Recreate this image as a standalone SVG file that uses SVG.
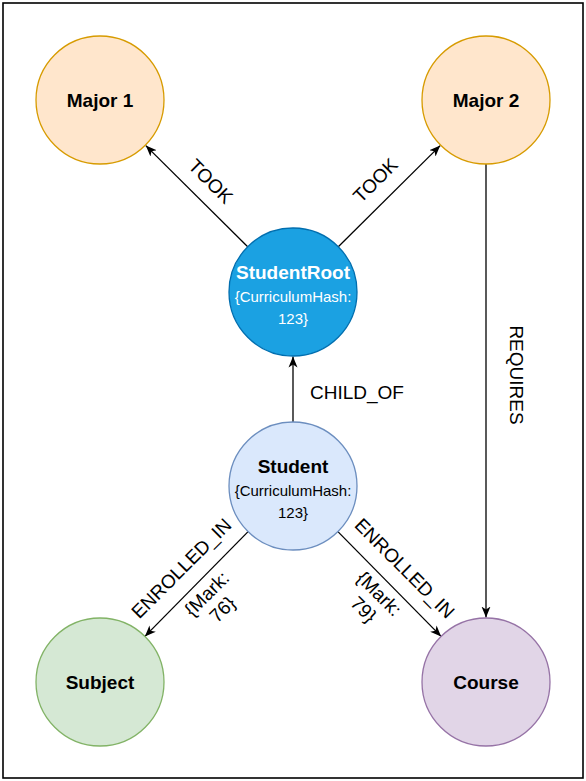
<svg xmlns="http://www.w3.org/2000/svg" width="586" height="781" viewBox="0 0 586 781">
  <style>
    .node { stroke-width: 1.3; }
    .name { font-family: "Liberation Sans", Arial, sans-serif; font-size: 19px; font-weight: bold; text-anchor: middle; fill: #000; }
    .prop { font-family: "Liberation Sans", Arial, sans-serif; font-size: 15px; text-anchor: middle; fill: #000; }
    .lbl { font-family: "Liberation Sans", Arial, sans-serif; font-size: 19px; text-anchor: middle; fill: #000; }
    .edge { stroke: #000; stroke-width: 1.3; fill: none; marker-end: url(#arr); }
  </style>
  <defs>
    <marker id="arr" markerUnits="userSpaceOnUse" markerWidth="12" markerHeight="10" viewBox="0 0 12 10" refX="11" refY="5" orient="auto">
      <path d="M0,0.5 L11,5 L0,9.5 L3,5 z" fill="#000"/>
    </marker>
  </defs>
  <rect x="0" y="0" width="586" height="781" fill="#fff"/>
  <rect x="3" y="3" width="580" height="775" fill="#fff" stroke="#000" stroke-width="1.6"/>

  <g id="connectors">
    <line class="edge" x1="247.7" y1="246.7" x2="145.8" y2="145.6"/>
    <line class="edge" x1="338.3" y1="246.7" x2="440.2" y2="145.6"/>
    <line class="edge" x1="293" y1="422" x2="293" y2="356.5"/>
    <line class="edge" x1="248.1" y1="531.6" x2="144.9" y2="636.4"/>
    <line class="edge" x1="337.9" y1="531.6" x2="441.1" y2="636.4"/>
    <line class="edge" x1="486" y1="164" x2="486" y2="617.5"/>
    <g transform="translate(211,181) rotate(45)"><text class="lbl" x="0" y="7">TOOK</text></g>
    <g transform="translate(375,180) rotate(-45)"><text class="lbl" x="0" y="7">TOOK</text></g>
    <text class="lbl" x="310" y="399" style="text-anchor:start">CHILD_OF</text>
    <g transform="translate(517,375) rotate(90)"><text class="lbl" x="0" y="7">REQUIRES</text></g>
    <g transform="translate(181,568) rotate(-45)">
      <text class="lbl" x="0" y="7">ENROLLED_IN</text>
      <text class="lbl" x="0" y="43">{Mark:</text>
      <text class="lbl" x="0" y="65">76}</text>
    </g>
    <g transform="translate(405,568) rotate(45)">
      <text class="lbl" x="0" y="7">ENROLLED_IN</text>
      <text class="lbl" x="0" y="43">{Mark:</text>
      <text class="lbl" x="0" y="65">79}</text>
    </g>
  </g>

  <g id="major1">
    <circle class="node" cx="100" cy="100" r="64" fill="#ffe6cc" stroke="#d79b00"/>
    <text class="name" x="100" y="107">Major 1</text>
  </g>
  <g id="major2">
    <circle class="node" cx="486" cy="100" r="64" fill="#ffe6cc" stroke="#d79b00"/>
    <text class="name" x="486" y="107">Major 2</text>
  </g>
  <g id="studentroot">
    <circle class="node" cx="293" cy="292" r="64" fill="#1ba1e2" stroke="#006eaf"/>
    <text class="name" x="293" y="279" fill="#fff" style="fill:#fff">StudentRoot</text>
    <text class="prop" x="293" y="302" style="fill:#fff">{CurriculumHash:</text>
    <text class="prop" x="293" y="324" style="fill:#fff">123}</text>
  </g>
  <g id="student">
    <circle class="node" cx="293" cy="486" r="64" fill="#dae8fc" stroke="#6c8ebf"/>
    <text class="name" x="293" y="473">Student</text>
    <text class="prop" x="293" y="496">{CurriculumHash:</text>
    <text class="prop" x="293" y="518">123}</text>
  </g>
  <g id="subject">
    <circle class="node" cx="100" cy="682" r="64" fill="#d5e8d4" stroke="#82b366"/>
    <text class="name" x="100" y="689">Subject</text>
  </g>
  <g id="course">
    <circle class="node" cx="486" cy="682" r="64" fill="#e1d5e7" stroke="#9673a6"/>
    <text class="name" x="486" y="689">Course</text>
  </g>
</svg>
